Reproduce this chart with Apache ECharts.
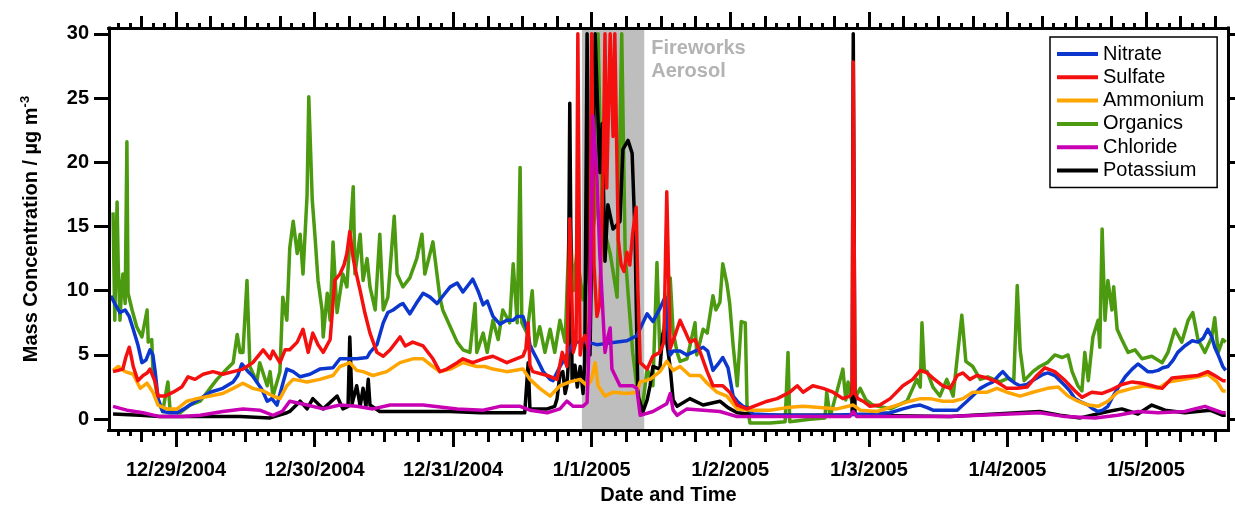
<!DOCTYPE html>
<html><head><meta charset="utf-8">
<script src="https://cdn.jsdelivr.net/npm/echarts@6/dist/echarts.min.js"></script>
<style>html,body{margin:0;padding:0;background:#fff;} #c{width:1235px;height:510px;}</style>
</head><body><div id="c"></div><script>
// x = hours since 12/29/2004 00:00, y = mass concentration (µg m-3)
const tickLabels = ['12/29/2004','12/30/2004','12/31/2004','1/1/2005','1/2/2005','1/3/2005','1/4/2005','1/5/2005'];
const tickHours = [0,24,48,72,96,120,144,168];
const yTicks = [0,5,10,15,20,25,30];
const xRange = [-11.6, 182.2];
const yRange = [-0.85, 30.45];
const fireworks = [70.3, 81.1];
const seriesNames = ['Nitrate','Sulfate','Ammonium','Organics','Chloride','Potassium'];

const nitrate = [[-11.3,9.6],[-10.6,9.0],[-9.7,8.3],[-8.8,8.5],[-8.1,8.0],[-7.4,7.0],[-6.6,5.8],[-5.9,4.4],[-5.2,4.6],[-4.5,5.4],[-4.0,5.0],[-3.6,3.7],[-3.1,1.6],[-2.3,0.6],[-1.0,0.5],[0.2,0.5],[1.4,0.8],[2.4,1.1],[4.2,1.6],[5.9,2.1],[8.1,2.4],[9.9,2.9],[10.7,3.4],[11.4,4.3],[12.5,3.7],[13.2,3.4],[14.0,2.9],[14.9,2.3],[15.8,1.4],[16.6,1.6],[17.5,1.1],[18.4,2.6],[19.2,3.9],[20.3,3.7],[21.5,3.3],[23.2,3.5],[24.9,3.9],[27.2,4.0],[28.4,4.7],[29.6,4.7],[31.3,4.7],[33.1,4.8],[33.6,5.2],[34.8,5.8],[35.9,7.5],[36.7,8.3],[37.6,8.5],[38.8,8.9],[39.3,9.0],[40.5,8.2],[41.6,9.0],[42.8,9.8],[44.0,9.5],[45.2,9.0],[46.6,9.8],[47.5,10.3],[48.7,10.6],[49.7,9.9],[50.9,10.6],[51.4,10.9],[52.3,10.0],[53.2,8.9],[53.9,9.2],[54.9,8.0],[56.1,7.4],[57.3,7.7],[58.4,7.7],[59.1,8.0],[60.1,8.0],[60.8,7.0],[61.3,5.8],[61.8,5.3],[62.5,4.7],[63.6,3.7],[64.8,3.1],[65.3,3.0],[66.5,4.1],[67.7,5.0],[68.8,6.0],[71.2,6.0],[72.9,5.8],[74.6,5.9],[76.4,6.0],[78.1,6.1],[79.8,6.5],[81.6,8.2],[82.6,7.6],[83.8,8.6],[84.7,9.5],[85.0,9.4],[85.6,5.0],[86.1,5.3],[87.3,5.3],[88.5,5.0],[89.9,5.3],[91.3,5.6],[92.1,5.3],[93.0,3.8],[93.9,4.3],[94.7,4.8],[95.6,4.0],[96.5,1.8],[97.2,1.4],[98.2,1.0],[98.9,0.9],[99.9,0.4],[104.6,0.3],[113.3,0.3],[120.2,0.4],[123.7,0.5],[125.9,0.8],[127.5,1.0],[128.9,1.1],[130.1,0.9],[131.1,0.7],[134.1,0.7],[135.3,0.7],[137.0,1.4],[138.4,2.0],[139.3,2.4],[140.5,2.7],[141.5,2.9],[142.7,3.5],[143.2,3.7],[144.4,3.1],[145.3,2.8],[146.2,2.6],[147.4,2.7],[148.3,3.0],[149.1,3.2],[150.2,3.5],[151.0,3.6],[152.2,3.4],[153.1,3.0],[154.0,2.6],[154.8,2.2],[155.7,1.6],[156.9,1.3],[158.0,1.1],[158.8,0.8],[159.7,0.6],[160.5,0.7],[161.4,1.0],[162.3,1.8],[163.1,2.4],[164.4,3.3],[165.6,3.9],[166.6,4.3],[167.5,4.0],[168.3,3.7],[169.2,3.7],[170.1,3.8],[170.9,4.0],[171.8,4.1],[172.7,4.6],[173.5,5.2],[174.7,5.7],[176.0,6.1],[177.0,6.0],[177.9,6.3],[178.7,7.0],[179.4,6.4],[179.9,5.6],[180.5,5.0],[181.3,4.1],[181.8,3.8]];

const sulfate = [[-10.9,3.7],[-10.0,3.8],[-9.2,3.9],[-8.7,4.8],[-8.1,5.6],[-7.8,5.0],[-7.4,4.1],[-6.6,3.0],[-5.7,3.4],[-5.0,3.6],[-4.5,3.9],[-3.6,2.9],[-3.1,1.8],[-1.9,1.8],[-0.5,2.1],[1.0,2.5],[2.1,3.3],[3.3,3.1],[4.7,3.5],[6.4,3.7],[8.1,3.5],[9.9,3.7],[11.6,3.9],[13.3,4.4],[15.1,5.4],[16.3,4.7],[16.8,5.3],[18.0,4.4],[18.9,5.4],[19.7,5.4],[21.0,6.0],[22.0,7.0],[22.9,5.2],[23.7,6.7],[24.6,5.8],[25.5,5.2],[26.7,6.2],[27.5,10.8],[28.4,11.3],[29.1,12.0],[29.6,12.9],[30.1,14.6],[30.7,12.5],[31.0,11.8],[31.9,10.0],[32.7,8.3],[33.6,6.7],[34.8,5.2],[35.9,4.9],[37.1,5.4],[38.8,6.4],[39.7,5.7],[41.0,6.0],[42.8,5.7],[44.5,4.7],[45.7,3.7],[46.9,3.9],[48.7,4.4],[49.7,4.7],[51.4,4.4],[53.2,4.7],[54.9,4.9],[57.3,4.4],[60.1,4.9],[60.6,5.5],[61.0,7.5],[61.3,4.2],[61.8,3.7],[64.3,3.4],[66.0,3.1],[66.9,5.2],[67.7,4.1],[68.2,15.6],[68.8,5.2],[69.3,6.0],[69.6,30],[70.0,5.0],[70.3,6.0],[70.8,6.5],[71.4,5.5],[71.7,10],[72.0,30],[72.4,12],[72.9,8],[73.4,9],[74.0,20],[74.3,30],[74.6,18],[75.2,30],[75.7,22],[76.0,30],[76.6,14],[77.1,12],[77.6,11.5],[78.1,13],[78.6,12],[79.1,14.5],[79.7,16.5],[80.0,10],[80.4,4.4],[81.6,3.9],[82.6,4.9],[83.8,5.2],[84.5,6.0],[85.0,17.7],[85.6,5.5],[86.4,6.5],[87.3,7.7],[88.2,6.8],[89.0,6.0],[89.9,6.2],[90.8,5.2],[92.0,3.7],[93.0,2.6],[94.7,2.6],[95.9,2.1],[97.2,1.1],[98.9,0.8],[100.6,1.1],[102.4,1.4],[104.1,1.6],[106.3,2.1],[107.6,2.6],[108.6,2.1],[110.3,2.6],[112.1,2.4],[113.8,2.1],[115.5,1.6],[116.7,1.8],[117.1,2.0],[117.3,27.8],[117.6,2.0],[118.1,1.6],[119.0,1.4],[120.2,1.0],[121.9,1.1],[123.7,1.6],[125.9,2.6],[127.6,3.1],[128.9,3.8],[130.1,3.6],[131.1,3.2],[132.8,2.6],[134.1,2.4],[135.3,3.4],[136.3,3.6],[137.5,3.1],[138.7,3.4],[140.5,3.2],[142.2,2.9],[143.9,2.4],[145.7,2.4],[147.4,2.5],[149.1,3.4],[150.5,4.0],[152.2,3.7],[154.0,3.0],[155.7,2.2],[156.9,1.7],[158.6,2.1],[160.4,2.0],[162.1,2.3],[163.8,2.7],[165.6,2.9],[167.3,2.8],[169.0,2.6],[170.8,2.4],[172.5,3.2],[174.7,3.3],[177.0,3.4],[178.7,3.7],[179.9,3.4],[181.3,3.0],[181.8,3.0]];

const ammonium = [[-10.9,3.8],[-10.0,4.1],[-8.8,3.7],[-7.4,3.5],[-6.2,2.4],[-5.0,2.8],[-4.0,2.1],[-3.1,1.1],[-1.6,0.8],[0.2,0.8],[1.9,1.4],[3.6,1.6],[5.9,1.8],[8.1,2.0],[9.9,2.4],[11.6,2.8],[13.3,2.4],[15.1,2.2],[16.8,1.8],[18.0,1.6],[19.2,2.6],[20.3,3.1],[21.5,3.0],[22.7,2.9],[24.9,3.1],[27.2,3.4],[28.4,4.1],[29.6,4.3],[30.1,4.4],[31.3,3.8],[32.4,3.7],[34.1,3.4],[36.5,3.7],[38.8,4.4],[41.0,4.7],[42.8,4.7],[44.5,4.1],[45.7,3.7],[47.5,3.9],[49.7,4.4],[52.1,4.1],[53.5,4.1],[54.9,3.9],[57.3,3.7],[60.1,3.9],[61.3,3.1],[63.0,2.4],[64.8,1.8],[66.5,2.6],[68.2,2.9],[70.0,3.1],[71.2,2.6],[71.9,3.0],[72.6,4.4],[73.1,2.6],[74.3,1.8],[75.7,2.1],[78.1,2.0],[79.8,2.1],[80.4,2.9],[82.1,3.1],[83.8,3.7],[85.0,4.5],[86.1,3.8],[87.3,4.1],[89.0,3.4],[90.8,3.4],[92.0,2.8],[93.7,2.1],[95.4,1.8],[97.2,0.8],[99.9,0.7],[102.9,0.7],[105.8,0.9],[108.6,1.0],[111.5,0.9],[114.5,0.8],[117.3,1.1],[118.5,0.7],[121.4,0.6],[124.2,1.0],[127.1,1.4],[128.9,1.6],[130.6,1.6],[132.8,1.4],[134.6,1.4],[136.3,1.6],[138.0,2.1],[140.5,2.1],[142.2,2.4],[143.9,2.1],[146.2,1.8],[148.4,2.1],[150.9,2.4],[152.8,2.5],[154.5,1.8],[156.2,1.4],[158.0,1.1],[159.7,1.0],[161.4,1.4],[163.1,2.1],[165.6,2.4],[167.8,2.6],[170.1,2.4],[171.8,2.9],[174.7,3.1],[177.0,3.3],[178.7,3.5],[180.3,2.9],[181.3,2.2],[181.8,2.2]];

const organics = [[-10.9,16.1],[-10.6,7.7],[-10.2,16.9],[-10.0,12.0],[-9.7,7.7],[-9.4,10.3],[-9.2,11.3],[-8.8,9.0],[-8.5,21.6],[-8.3,9.8],[-7.6,8.5],[-6.8,7.2],[-5.9,6.4],[-5.0,8.5],[-4.8,6.0],[-4.2,6.2],[-4.0,3.9],[-3.1,1.4],[-2.3,0.6],[-1.4,2.9],[-1.0,0.6],[0.7,0.5],[2.4,1.1],[4.2,1.4],[5.9,2.4],[7.1,3.1],[8.8,3.9],[9.9,4.4],[10.6,6.6],[11.1,5.2],[11.6,5.2],[12.3,10.8],[12.8,4.1],[14.0,2.9],[14.5,4.4],[15.8,2.6],[16.3,3.7],[16.8,1.8],[18.0,3.7],[18.5,9.5],[19.2,7.7],[19.7,13.3],[20.3,15.4],[21.0,12.9],[21.5,14.4],[22.0,11.3],[22.7,17.4],[23.0,25.1],[23.6,17.1],[24.1,14.1],[24.6,10.8],[25.3,8.5],[25.5,6.4],[26.2,9.8],[26.7,7.7],[27.2,13.8],[27.9,8.3],[28.9,11.3],[29.6,10.3],[30.7,18.1],[31.0,11.3],[31.9,14.4],[32.4,10.8],[33.1,12.5],[33.6,10.3],[34.5,8.5],[35.3,14.4],[35.9,8.5],[36.7,9.5],[37.8,15.8],[38.3,11.3],[39.3,10.3],[40.5,11.0],[41.7,12.5],[42.6,14.4],[43.1,11.3],[44.0,12.9],[44.5,13.8],[45.2,11.3],[45.7,9.5],[46.2,8.5],[47.5,7.2],[48.7,6.0],[49.7,5.4],[50.9,5.2],[51.8,9.0],[52.1,5.2],[53.2,6.7],[53.9,5.2],[54.9,7.7],[55.8,6.2],[56.6,8.5],[57.8,7.5],[58.4,12.1],[59.1,7.5],[59.6,19.6],[59.9,7.5],[60.8,6.7],[61.7,10.0],[62.2,5.7],[63.0,7.2],[63.9,5.2],[64.8,7.0],[65.6,5.2],[66.5,7.7],[67.4,6.0],[68.2,16.0],[68.8,10],[69.4,12.9],[70.5,9.3],[71.7,12.9],[72.6,16],[73.1,30],[73.8,15.4],[75.2,12.9],[76.4,9.5],[77.2,30],[77.8,12.9],[78.3,9.8],[79.1,5.2],[79.8,2.6],[80.7,0.6],[81.6,3.9],[82.6,2.6],[83.3,12.2],[83.8,5.2],[84.7,7.7],[85.6,11.0],[86.1,6.8],[86.8,5.2],[87.3,4.5],[88.5,4.7],[89.9,7.5],[90.2,5.0],[91.3,7.0],[92.0,6.7],[93.0,9.6],[93.5,8.5],[94.2,9.1],[94.7,12.1],[95.4,10.6],[95.9,9.0],[96.5,5.7],[97.2,2.6],[97.9,7.6],[98.6,7.5],[98.9,1.1],[99.4,-0.3],[102.9,-0.3],[105.5,-0.2],[106.0,5.2],[106.3,-0.2],[109.8,0.0],[112.4,0.1],[112.7,2.1],[113.3,0.2],[115.5,3.9],[116.0,1.5],[116.4,2.9],[117.1,1.2],[118.5,2.4],[119.5,1.5],[120.7,1.1],[123.7,0.8],[126.6,1.4],[128.3,3.1],[128.9,2.5],[129.2,7.5],[129.6,3.8],[130.1,3.7],[131.1,2.5],[132.3,1.8],[133.5,3.1],[134.6,1.8],[135.4,5.2],[136.1,8.1],[136.8,4.5],[138.0,4.1],[139.3,3.1],[140.6,3.3],[142.7,2.9],[144.1,3.2],[145.1,3.0],[145.7,10.4],[146.2,5.4],[146.9,3.0],[148.4,3.7],[149.6,4.1],[150.9,4.4],[152.2,5.0],[153.5,4.8],[154.5,5.0],[155.2,3.7],[156.2,2.6],[156.9,2.2],[157.4,5.2],[158.0,3.0],[158.8,6.4],[159.7,7.7],[160.0,5.6],[160.4,14.8],[160.9,7.7],[161.4,10.8],[162.1,8.5],[162.4,10.3],[163.0,7.0],[163.8,6.2],[164.9,5.2],[166.1,5.4],[167.3,4.7],[169.0,4.9],[170.8,4.4],[171.8,5.2],[173.0,7.0],[174.2,6.0],[175.3,7.7],[176.1,8.3],[177.0,6.2],[178.2,5.2],[179.4,6.4],[179.9,7.9],[180.5,5.2],[181.3,6.2],[181.8,6.0]];

const chloride = [[-10.9,1.0],[-8.5,0.7],[-5.7,0.5],[-2.8,0.2],[1.2,0.2],[4.2,0.3],[8.1,0.6],[11.6,0.8],[14.5,0.7],[16.8,0.3],[18.4,0.6],[19.7,1.4],[22.7,1.1],[25.5,0.8],[28.4,1.1],[31.3,1.0],[34.1,0.8],[37.1,1.1],[42.8,1.1],[48.7,0.8],[53.2,0.7],[56.1,1.0],[59.6,1.0],[61.3,0.7],[64.3,0.5],[66.5,0.8],[67.7,1.4],[68.8,1.0],[70.5,1.0],[71.2,1.3],[71.7,8],[72.2,23.6],[72.9,19],[73.4,12.9],[74.3,5.2],[74.8,6.4],[75.2,7.1],[75.5,3.9],[76.9,2.6],[79.1,2.6],[79.8,2.4],[80.4,0.3],[82.6,0.6],[85.0,1.2],[85.6,2.0],[86.1,0.7],[86.8,0.3],[88.5,0.8],[91.3,0.7],[94.2,0.6],[97.2,0.2],[108.1,0.2],[116.7,0.2],[117.3,0.6],[117.9,0.2],[134.1,0.2],[149.6,0.5],[154.0,0.2],[159.2,0.1],[163.1,0.3],[166.6,0.6],[170.1,0.5],[174.7,0.6],[178.2,1.0],[181.2,0.5],[181.8,0.5]];

const potassium = [[-10.9,0.4],[-6.2,0.3],[-2.8,0.2],[4.2,0.2],[11.1,0.2],[16.3,0.1],[19.2,0.5],[19.7,0.6],[21.5,1.4],[22.7,0.8],[23.7,1.6],[25.5,0.8],[27.9,1.8],[28.9,0.8],[29.8,1.0],[30.1,6.4],[30.5,1.2],[31.3,2.6],[31.9,1.0],[32.4,2.4],[32.9,1.0],[33.3,3.1],[33.6,1.1],[35.3,0.6],[47.5,0.6],[52.7,0.5],[60.4,0.5],[61.0,4.4],[61.3,0.8],[64.3,0.8],[65.6,1.0],[66.0,1.6],[66.5,3.5],[67.0,3.7],[67.4,2.0],[67.7,2.6],[67.9,4.0],[68.2,24.6],[68.6,3.0],[69.1,4.2],[69.5,2.5],[70.0,4.1],[70.5,2.0],[70.8,4.5],[71.2,30],[71.7,5],[72.6,30],[73.4,19.2],[73.8,23],[74.3,12.3],[74.8,16.7],[75.7,14.8],[76.9,15.4],[77.4,21.0],[78.3,21.7],[79.0,20.7],[79.5,14.4],[80.0,1.8],[80.9,0.6],[81.6,1.5],[82.1,2.6],[82.6,4.1],[83.8,3.9],[84.3,6.6],[84.7,7.0],[85.0,7.1],[85.6,4.0],[86.1,1.5],[86.8,1.0],[89.0,1.6],[91.3,1.1],[94.2,1.4],[95.6,0.9],[97.2,0.5],[101.1,0.3],[116.7,0.3],[117.1,0.4],[117.3,30],[117.6,0.4],[118.5,0.3],[134.1,0.2],[149.6,0.6],[153.1,0.3],[156.6,0.1],[161.4,0.6],[163.8,0.8],[166.6,0.4],[169.0,1.1],[171.3,0.7],[174.7,0.5],[179.1,0.7],[181.3,0.3],[181.8,0.3]];

const colors = {Nitrate:'#0b37cf', Sulfate:'#f51010', Ammonium:'#ffa500', Organics:'#4c9a10', Chloride:'#c800b4', Potassium:'#000000'};

const FONT = 'Liberation Sans, Arial, Helvetica, sans-serif';
const mediumTicks = []; for (let h = -6; h <= 180; h += 6) if (h % 24 !== 0) mediumTicks.push(h);
const minorTicks = []; for (let h = -10; h <= 181; h += 2) if (h % 6 !== 0) minorTicks.push(h);

function xAxisDef(pos, ticks, len, withLabels) {
  const ax = {
    type:'value', position:pos, gridIndex:0, min:xRange[0], max:xRange[1], z:10,
    axisLine:{show:true, onZero:false, lineStyle:{color:'#000', width:3, cap:'square'}},
    axisTick:{show:true, inside:false, customValues:ticks, length:len, lineStyle:{color:'#000', width:3}},
    axisLabel:{show:false}, splitLine:{show:false}
  };
  if (withLabels) {
    ax.axisLabel = {show:true, customValues:tickHours, margin:30, fontSize:20, fontWeight:'bold', color:'#000', fontFamily:FONT,
      formatter: v => tickLabels[tickHours.indexOf(Math.round(v))] || ''};
    ax.name = 'Date and Time'; ax.nameLocation = 'middle'; ax.nameGap = 51;
    ax.nameTextStyle = {fontSize:20, fontWeight:'bold', color:'#000', fontFamily:FONT};
  }
  return ax;
}
function yAxisDef(pos, withLabels) {
  const ax = {
    type:'value', position:pos, gridIndex:0, min:yRange[0], max:yRange[1], z:10,
    axisLine:{show:true, onZero:false, lineStyle:{color:'#000', width:3, cap:'square'}},
    axisTick:{show:true, inside:false, customValues:yTicks, length:pos==='left'?15:12, lineStyle:{color:'#000', width:3}},
    axisLabel:{show:false}, splitLine:{show:false}
  };
  if (withLabels) {
    ax.axisLabel = {show:true, customValues:yTicks, margin:20, fontSize:20, fontWeight:'bold', color:'#000', fontFamily:FONT};
    ax.name = '{t|Mass Concentration / µg m}{s|-3}';
    ax.nameLocation = 'middle'; ax.nameRotate = 90; ax.nameGap = 66;
    ax.nameTextStyle = {rich:{
      t:{fontSize:20, fontWeight:'bold', color:'#000', fontFamily:FONT, lineHeight:24},
      s:{fontSize:13, fontWeight:'bold', color:'#000', fontFamily:FONT, lineHeight:12, verticalAlign:'top'}
    }};
  }
  return ax;
}

function lineSeries(name, data) {
  return {name, type:'line', data, xAxisIndex:0, yAxisIndex:0, showSymbol:false, symbol:'none', z:2,
    lineStyle:{color:colors[name], width:3.5, join:'round'}, itemStyle:{color:colors[name]}, silent:true, animation:false};
}

const chart = echarts.init(document.getElementById('c'), null, {renderer:'canvas'});
chart.setOption({
  animation:false,
  backgroundColor:'#fff',
  grid:{left:109, right:7, top:28, bottom:73, containLabel:false},
  xAxis:[
    xAxisDef('bottom', tickHours, 17, true),
    xAxisDef('bottom', mediumTicks, 12, false),
    xAxisDef('bottom', minorTicks, 6, false),
    xAxisDef('top', tickHours, 16, false),
    xAxisDef('top', mediumTicks, 12, false),
    xAxisDef('top', minorTicks, 5, false)
  ],
  yAxis:[yAxisDef('left', true), yAxisDef('right', false)],
  legend:{
    orient:'vertical', left:1050, top:37, padding:[7,13,7,7], itemGap:3.3, itemWidth:41, itemHeight:4,
    icon:'rect', backgroundColor:'#fff', borderColor:'#000', borderWidth:1.5, borderRadius:0,
    data:seriesNames, selectedMode:false,
    textStyle:{fontSize:20, color:'#000', fontFamily:FONT, lineHeight:20}
  },
  series:[
    {type:'line', data:[], xAxisIndex:0, yAxisIndex:0, z:1, silent:true,
      markArea:{silent:true, itemStyle:{color:'#bebebe', opacity:1},
        label:{show:true, position:['100%',0], offset:[7,9], align:'left', verticalAlign:'top',
          formatter:'Fireworks\nAerosol', color:'#b3b3b3', fontSize:20, fontWeight:'bold', fontFamily:FONT, lineHeight:23},
        data:[[{xAxis:fireworks[0]},{xAxis:fireworks[1]}]]}},
    lineSeries('Organics', organics),
    lineSeries('Potassium', potassium),
    lineSeries('Nitrate', nitrate),
    lineSeries('Ammonium', ammonium),
    lineSeries('Sulfate', sulfate),
    lineSeries('Chloride', chloride)
  ]
});
</script></body></html>
